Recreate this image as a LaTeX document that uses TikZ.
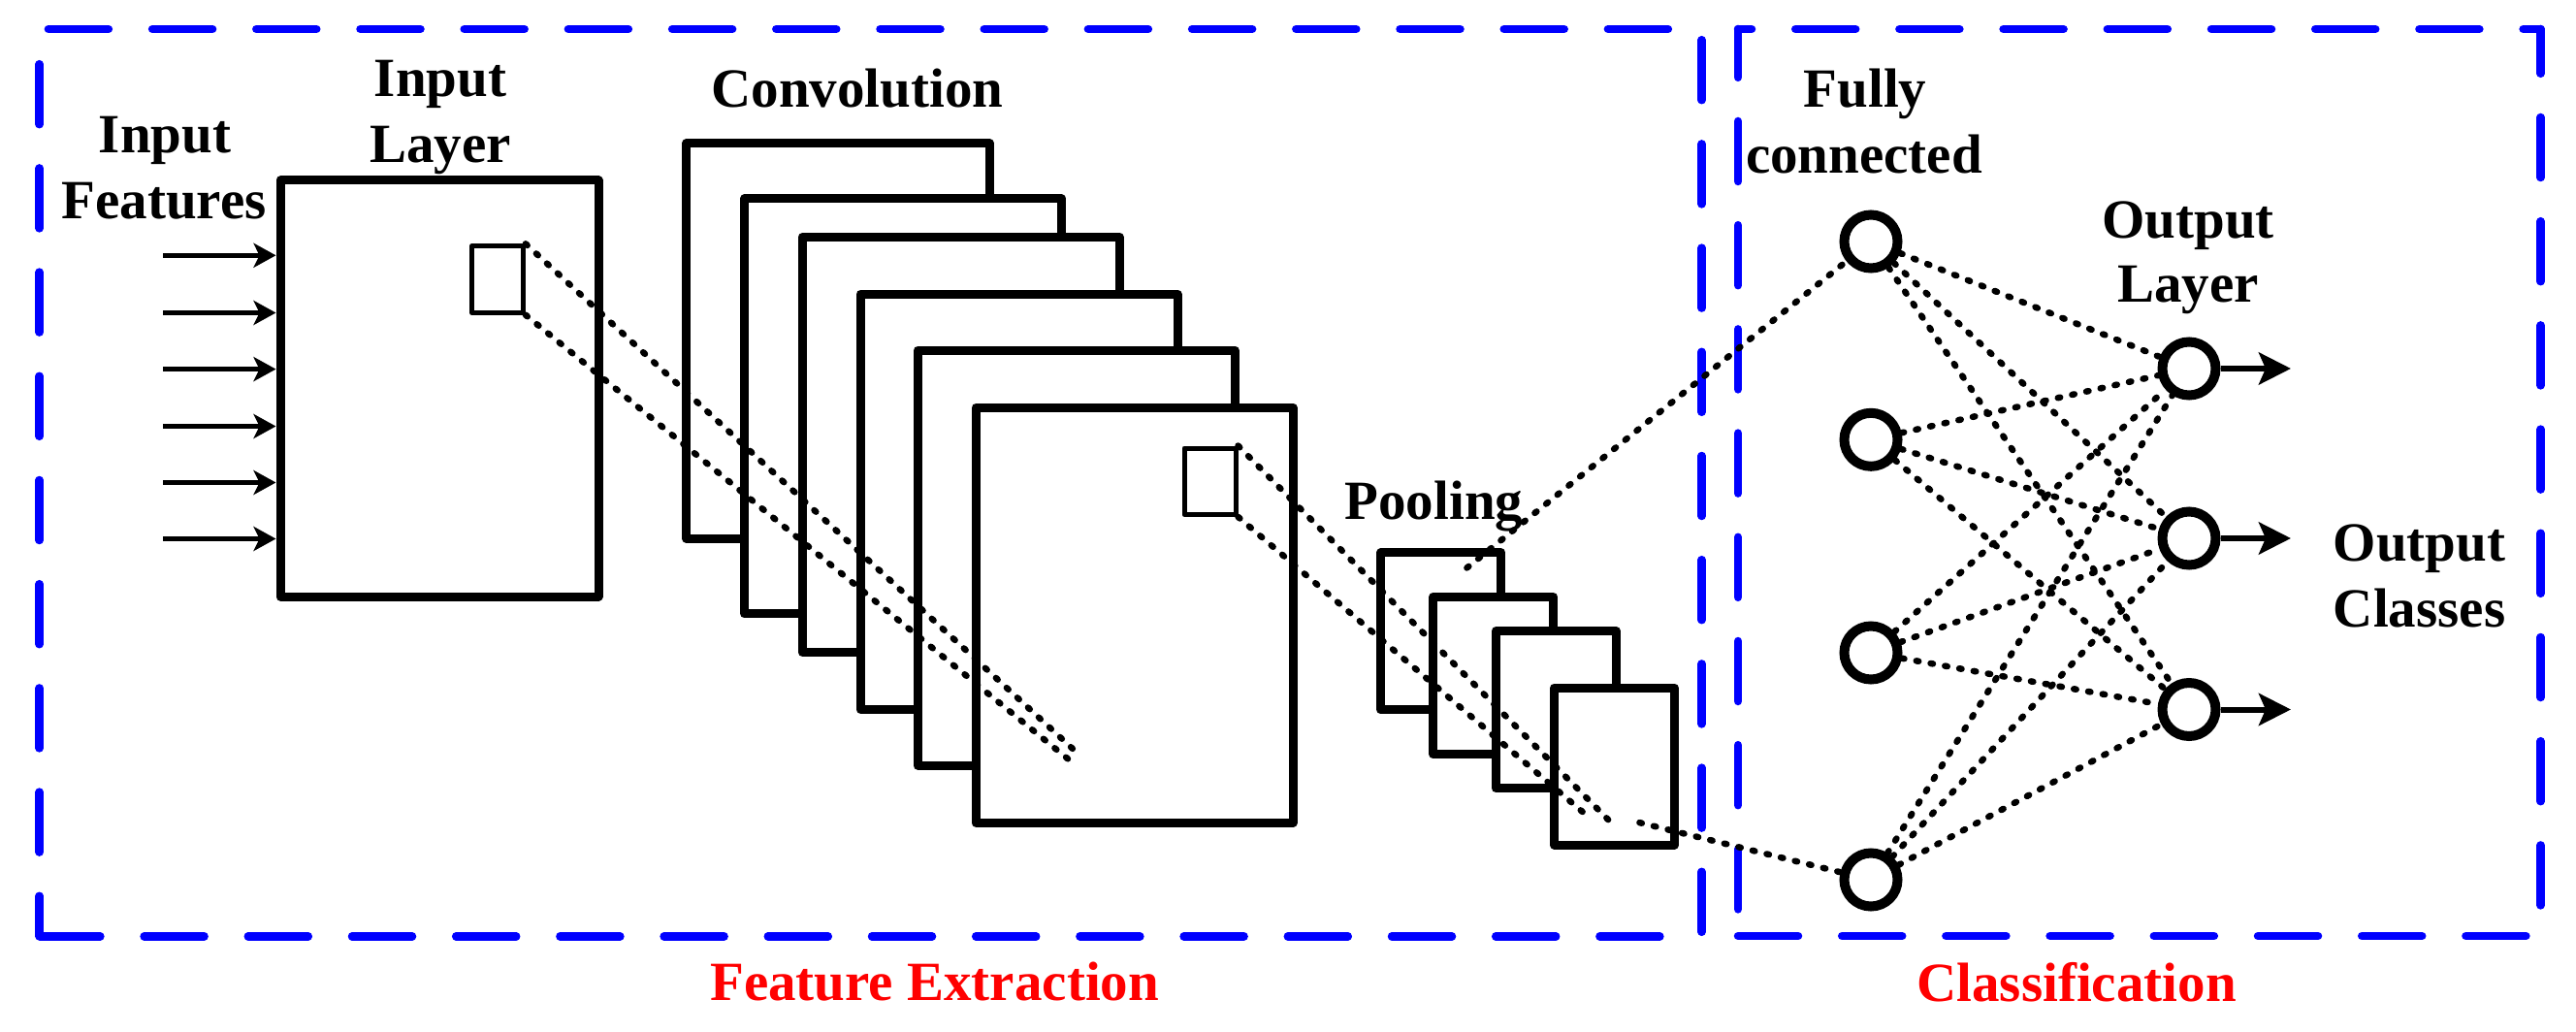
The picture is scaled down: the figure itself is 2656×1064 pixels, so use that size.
\documentclass[tikz,border=0pt]{standalone}
\usepackage{fontspec}
\setmainfont{Liberation Serif}
\usetikzlibrary{arrows.meta}
\begin{document}
\begin{tikzpicture}[x=1pt,y=-1pt,
  lbl/.style={anchor=base, inner sep=0pt, font=\fontsize{57}{68}\selectfont\bfseries},
  redlbl/.style={lbl, text=red},
  bluedash/.style={draw=blue, line width=8.5pt, line cap=round, dash pattern=on 62pt off 45.2pt},
  sheet/.style={draw, fill=white, line width=9pt, line join=round, inner sep=0pt},
  pool/.style={sheet, minimum width=124pt, minimum height=162pt},
  conv/.style={sheet, minimum width=327pt, minimum height=428pt},
  win/.style={draw, line width=5pt, line join=round, inner sep=0pt, minimum width=53pt, minimum height=68.4pt},
  neuron/.style={circle, draw, fill=white, line width=10pt, minimum size=55pt, inner sep=0pt},
  dots/.style={line width=6.5pt, line cap=round, dash pattern=on 2.5pt off 12.5pt},
  inarr/.style={line width=5pt, -{Stealth[length=23pt, width=25pt, inset=6pt]}},
  outarr/.style={line width=6pt, -{Stealth[length=33pt, width=33pt, inset=7pt]}}
]
\useasboundingbox (0,0) rectangle (2656,1064);

% dashed frames
\draw[bluedash, dash phase=98pt]    (40.7,30) -- (1754.6,30);
\draw[bluedash, dash phase=71pt]    (40.7,30) -- (40.7,965.4);
\draw[bluedash, dash phase=106.5pt] (40.7,965.4) -- (1754.6,965.4);
\draw[bluedash, dash phase=96pt]    (1754.6,30) -- (1754.6,965.4);
\draw[bluedash, dash phase=48pt]    (1792,30) -- (2619.6,30);
\draw[bluedash, dash phase=12.2pt]  (1792,30) -- (1792,965);
\draw[bluedash, dash phase=16.2pt]  (2619.6,30) -- (2619.6,965);
\draw[bluedash, dash phase=0pt]     (1792,965) -- (2619.6,965);

% input layer
\node[sheet, minimum width=328pt, minimum height=429pt] (inlayer) at (453,400.5) {};
\node[win] (insq) at (512.9,288) {};
\foreach \k/\yy in {1/263.3,2/322.5,3/380.6,4/439.5,5/497.5,6/555.5}{
  \coordinate (a\k) at (168,\yy);
  \draw[inarr] (a\k) -- (a\k -| inlayer.west);
}

% convolution stack
\node[sheet, minimum width=312.5pt, minimum height=407.6pt] (c1) at (864,351.5) {};
\node[conv] (c2) at (931.1,418.9) {};
\node[conv] (c3) at (990.7,458.4) {};
\node[conv] (c4) at (1050.5,517.2) {};
\node[conv] (c5) at (1109.7,575.1) {};
\node[conv] (c6) at (1169.5,634.2) {};
\node[win] (csq) at (1247.5,496.2) {};

% pooling stack
\node[pool] (p1) at (1485.7,650.8) {};
\node[pool] (p2) at (1539.7,696.5) {};
\node[pool] (p3) at (1604.3,731.7) {};
\node[pool] (p4) at (1664.5,790.1) {};

% neurons
\node[neuron] (fc1) at (1929,249) {};
\node[neuron] (fc2) at (1929,453.3) {};
\node[neuron] (fc3) at (1929,673) {};
\node[neuron] (fc4) at (1929,907) {};
\node[neuron] (out1) at (2257,380) {};
\node[neuron] (out2) at (2257,555) {};
\node[neuron] (out3) at (2257,731.5) {};

% receptive field lines
\coordinate (e1) at (1108.5,774.3);
\coordinate (e2) at (1108.5,788.5);
\draw[dots] (insq.north east) -- (e1);
\draw[dots] (insq.south east) -- (e2);
\coordinate (f1) at (1660,847);
\coordinate (f2) at (1641,845);
\draw[dots] (csq.north east) -- (f1);
\draw[dots] (csq.south east) -- (f2);
\coordinate (g1) at (1512.4,585.5);
\coordinate (g2) at (1690.4,848.1);
\draw[dots] (g1) -- (fc1);
\draw[dots] (g2) -- (fc4);

% fully connected
\foreach \i in {1,...,4}{
  \foreach \j in {1,2,3}{
    \draw[dots] (fc\i) -- (out\j);
  }
}

% output arrows
\coordinate (t1) at (2362,380);
\coordinate (t2) at (2362,555);
\coordinate (t3) at (2362,731.5);
\draw[outarr] (out1) -- (t1);
\draw[outarr] (out2) -- (t2);
\draw[outarr] (out3) -- (t3);

% labels
\node[lbl] (lif1) at (170,157.5) {Input};
\node[lbl] (lif2) at (169,226) {Features};
\node[lbl] (lil1) at (454,99.5) {Input};
\node[lbl] (lil2) at (454,168) {Layer};
\node[lbl] (lconv) at (884,111) {Convolution};
\node[lbl] (lpool) at (1478.5,535.5) {Pooling};
\node[lbl] (lfc1) at (1923,110.6) {Fully};
\node[lbl] (lfc2) at (1922,178.5) {connected};
\node[lbl] (lol1) at (2256,245.5) {Output};
\node[lbl] (lol2) at (2256,312) {Layer};
\node[lbl] (loc1) at (2494.5,578) {Output};
\node[lbl] (loc2) at (2494.5,646) {Classes};
\node[redlbl] (lfe) at (963.7,1031.7) {Feature Extraction};
\node[redlbl] (lcl) at (2141,1032.8) {Classification};
\end{tikzpicture}
\end{document}
